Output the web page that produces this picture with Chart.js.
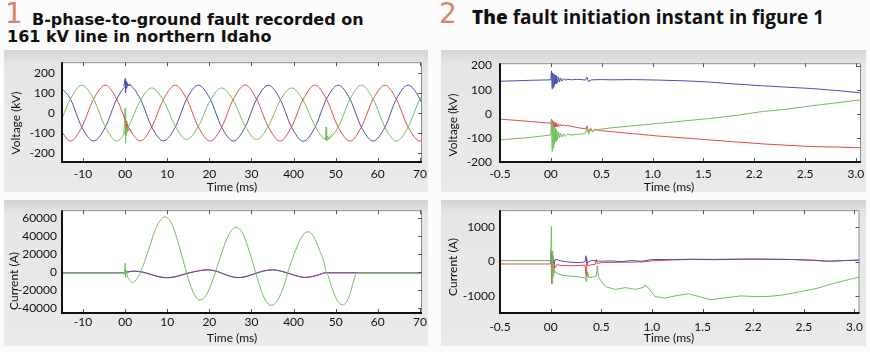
<!DOCTYPE html>
<html>
<head>
<meta charset="utf-8">
<script src="https://cdn.jsdelivr.net/npm/chart.js@4/dist/chart.umd.min.js"></script>
<style>
body { margin: 0; width: 870px; height: 352px; background: #fbfbfb; position: relative; overflow: hidden; }
.panel { position: absolute; background: linear-gradient(#d3d3d3 0, #dcdcdc 6px, #e6e6e6 14px, #eaeaea 100%); }
.wrap { position: absolute; }
.num { position: absolute; font: 28px "DejaVu Sans"; line-height: 28px; color: #d9856a; }
.ttl { position: absolute; font: bold 16px "DejaVu Sans"; line-height: 17px; color: #111; white-space: nowrap; }
.ttl2 { position: absolute; font: bold 19px "Open Sans"; line-height: 20px; color: #111; white-space: nowrap; }
.ttl2 .the { font-weight: 800; }
.lab { position: absolute; font: 12px Lato; line-height: 1; color: #111; white-space: nowrap; transform: translate(-50%, -50%); }
.rot { transform: translate(-50%, -50%) rotate(-90deg); }
</style>
</head>
<body>
<!-- 見出し -->
<div class="num" style="left:5px;top:0px">1</div>
<div class="ttl" style="left:32px;top:11px">B-phase-to-ground fault recorded on</div>
<div class="ttl" style="left:7px;top:28px">161 kV line in northern Idaho</div>
<div class="num" style="left:439px;top:0px">2</div>
<div class="ttl2" style="left:472px;top:7px"><span class="the">The</span> fault initiation instant in figure 1</div>

<!-- パネル背景 -->
<div class="panel" style="left:4px;top:50px;width:424px;height:142px"></div>
<div class="panel" style="left:4px;top:200px;width:424px;height:146px"></div>
<div class="panel" style="left:441px;top:50px;width:425px;height:142px"></div>
<div class="panel" style="left:441px;top:200px;width:425px;height:146px"></div>

<div class="wrap" style="left:0px;top:48px"><canvas id="vLeft" width="435" height="148"></canvas></div>
<div class="wrap" style="left:0px;top:198px"><canvas id="iLeft" width="435" height="150"></canvas></div>
<div class="wrap" style="left:435px;top:48px"><canvas id="vRight" width="435" height="148"></canvas></div>
<div class="wrap" style="left:435px;top:198px"><canvas id="iRight" width="435" height="150"></canvas></div>

<!-- 軸タイトル -->
<div class="lab rot" style="left:16px;top:123px">Voltage (kV)</div>
<div class="lab rot" style="left:14px;top:281px">Current (A)</div>
<div class="lab rot" style="left:453px;top:125px">Voltage (kV)</div>
<div class="lab rot" style="left:453px;top:267px">Current (A)</div>
<div class="lab" style="left:232px;top:187px">Time (ms)</div>
<div class="lab" style="left:232px;top:338px">Time (ms)</div>
<div class="lab" style="left:669px;top:187px">Time (ms)</div>
<div class="lab" style="left:669px;top:338px">Time (ms)</div>

<script>
// 目盛り
const leftTicks = [-10, 0, 10, 20, 30, 40, 50, 60, 70];
const leftTickLabels = ['-10', '00', '10', '20', '30', '400', '50', '60', '70'];
const rightTicks = [-0.5, 0, 0.5, 1.0, 1.5, 2.0, 2.5, 3.0];
const rightTickLabels = ['-0.5', '00', '0.5', '1.0', '1.5', '2.2', '2.5', '3.0'];
const voltTicks = [-200, -100, 0, 100, 200];
const ampTicksLeft = [-40000, -20000, 0, 20000, 40000, 60000];
const ampTicksRight = [-1000, 0, 1000];

// 図1 電圧 (kV)
const vTime = [-15.8, -13.0, -10.3, -7.5, -4.7, -2.0, 0.8, 3.6, 6.3, 9.1, 11.9, 14.6, 17.4, 20.2, 22.9, 25.7, 28.5,
  31.2, 34.0, 36.8, 39.5, 42.3, 45.1, 47.8, 50.6, 53.4, 56.1, 58.9, 61.7, 64.4, 67.2, 70.0, 72.7];
const blueV = [140, 70, -70, -140, -70, 70, 141, 71, -69, -139, -70, 70, 140, 70, -70, -140, -70,
  69, 139, 70, -70, -141, -71, 70, 140, 70, -70, -140, -70, 70, 140, 70, -70];
const redV = [-70, -140, -70, 70, 140, 70, -70, -139, -70, 69, 140, 71, -70, -140, -71, 70, 141,
  70, -69, -140, -70, 70, 140, 70, -70, -140, -70, 70, 140, 70, -70, -140, -70];
const greenV = [-70, 70, 140, 70, -70, -140, -66, 63, 126, 63, -66, -132, -66, 63, 126, 63, -66,
  -132, -66, 63, 126, 63, -66, -132, -70, 70, 140, 70, -70, -140, -70, 70, 140];
// 故障発生・遮断時のスパイク
const blueSpikeT = [-0.3, 0.0, 0.1, 0.2, 0.35, 0.5, 0.7, 1.0, 1.4];
const blueSpikeV = [134, 172, 102, 158, 125, 150, 136, 146, 139];
const redSpikeT = [-0.3, 0.0, 0.1, 0.2, 0.35, 0.5, 0.7, 1.0, 1.4];
const redSpikeV = [-17, -25, -82, -40, -95, -55, -88, -80, -92];
const greenSpikeT = [-0.3, 0.0, 0.05, 0.15, 0.3, 0.5, 0.8];
const greenSpikeV = [-105, 25, -152, -55, -115, -80, -68];
const greenClearT = [47.3, 47.6, 47.7, 47.85, 48.0, 48.3, 48.7, 49.2];
const greenClearV = [-128, -132, -70, -140, -115, -128, -112, -105];

// 図1 電流 (A)
const greenIT = [-15, -0.2, 0, 0.1, 0.25, 0.5, 0.9, 1.6, 3.0, 4.4, 5.6, 6.9, 8.2, 9.5, 10.9, 12.3, 13.6, 15.0,
  16.4, 17.8, 19.2, 20.6, 22.1, 23.6, 25.0, 26.4, 27.8, 29.2, 30.5, 31.9, 33.3, 34.7, 36.1, 37.6, 39.0, 40.5,
  42.0, 43.4, 44.8, 46.2, 47.4, 47.6, 47.8, 48.1, 48.5, 49.0, 50.3, 51.7, 52.6, 53.5, 54.3, 55.0, 71];
const greenIV = [-800, -800, 10000, -6000, 2000, -4000, -8000, -11500, -6000, 9000, 25600, 43800, 56700, 61500,
  55300, 37700, 16000, -7200, -24800, -31000, -25900, -11400, 9500, 30400, 44900, 50000, 44200, 27600, 7300,
  -14600, -31200, -37000, -31900, -16500, 5400, 24500, 39900, 45000, 39500, 24000, 8000, 3000, -1500, -3000,
  -8000, -16000, -31000, -36500, -33000, -23000, -9000, -800, -800];
const sideIT = [-15, -0.2, 0, 0.2, 0.5, 2.0, 4.0, 6.0, 8.0, 10.0, 12.0, 14.0, 16.5, 19.5, 22.0, 24.2, 26.8,
  28.7, 30.7, 32.7, 35.0, 37.0, 39.0, 41.0, 42.7, 44.5, 46.2, 47.5, 48.0, 71];
const blueIV = [-800, -800, -2500, 1500, 0, 1200, 300, -2200, -5000, -6300, -5200, -2500, 500, 2500, 500, -3500,
  -6200, -5000, -2000, 1000, 2500, 1200, -1500, -4500, -6000, -5000, -2800, -800, -800, -800];
const redIV = [-700, -700, 3000, -1500, 300, 1000, 0, -2500, -5200, -6000, -4800, -2000, 700, 2600, 600, -3300,
  -6000, -4800, -1800, 1200, 2600, 1000, -1800, -4700, -5800, -4600, -2300, -600, -700, -700];

// 図2 電圧 (kV)
const blueZT = [-0.5, -0.2, 0, 0.006, 0.012, 0.018, 0.024, 0.03, 0.036, 0.042, 0.05, 0.058, 0.066, 0.075, 0.085,
  0.095, 0.11, 0.125, 0.14, 0.16, 0.2, 0.25, 0.3, 0.34, 0.355, 0.37, 0.4, 0.5, 0.6, 0.8, 1.05, 1.3, 1.55, 1.8,
  2.09, 2.3, 2.56, 2.8, 3.05];
const blueZV = [135, 139, 141, 178, 104, 170, 110, 165, 118, 160, 124, 156, 128, 152, 132, 149, 136, 146, 139,
  144, 141, 143, 142, 140, 152, 134, 141, 142, 141, 142, 140, 137, 132, 124, 116, 111, 105, 97, 87];
const noiseZT = [-0.5, -0.2, 0, 0.006, 0.012, 0.018, 0.024, 0.03, 0.036, 0.042, 0.05, 0.058, 0.066, 0.075, 0.085,
  0.095, 0.11, 0.125, 0.14, 0.16, 0.2, 0.25, 0.3, 0.34, 0.355, 0.37, 0.39, 0.41, 0.43, 0.5, 0.6, 0.8, 1.05, 1.3,
  1.55, 1.8, 2.09, 2.3, 2.56, 2.8, 3.05];
const redZV = [-22, -32, -39, -22, -62, -28, -58, -33, -56, -37, -54, -40, -53, -42, -52, -44, -50, -46, -50, -48,
  -52, -56, -60, -62, -50, -75, -60, -72, -64, -70, -74, -82, -92, -100, -108, -116, -125, -130, -136, -138, -141];
const greenZV = [-108, -98, -88, -25, -155, -40, -140, -55, -125, -62, -115, -70, -108, -75, -100, -80, -96, -82,
  -94, -85, -88, -86, -84, -80, -58, -85, -66, -76, -68, -63, -58, -50, -40, -30, -20, -8, 10, 18, 33, 45, 58];

// 図2 電流 (A)
const greenZIT = [-0.5, 0, 0.008, 0.014, 0.02, 0.027, 0.037, 0.053, 0.12, 0.25, 0.34, 0.355, 0.365, 0.38, 0.45,
  0.46, 0.475, 0.54, 0.64, 0.74, 0.84, 0.92, 0.93, 0.97, 1.03, 1.13, 1.23, 1.36, 1.49, 1.58, 1.71, 1.88, 2.01,
  2.14, 2.3, 2.46, 2.63, 2.79, 2.95, 3.05];
const greenZIV = [30, 30, 1030, -640, 310, -450, -250, -330, -400, -440, -470, -590, -300, -470, -430, -120, -470,
  -730, -810, -760, -810, -750, -680, -780, -1020, -1065, -1000, -940, -1040, -1110, -1065, -1000, -1020, -1020,
  -970, -880, -780, -640, -520, -450];
const blueZIT = [-0.5, 0, 0.005, 0.01, 0.02, 0.03, 0.05, 0.1, 0.2, 0.3, 0.34, 0.35, 0.36, 0.4, 0.5, 0.6, 0.7, 0.8,
  0.9, 1.0, 1.2, 1.4, 1.6, 1.8, 2.0, 2.2, 2.4, 2.6, 2.75, 2.9, 3.05];
const blueZIV = [30, 30, 280, -150, 180, -60, 70, 20, -20, -30, 0, 170, -40, 30, 10, 20, 0, 30, 10, 60, 60, 70, 65,
  70, 75, 70, 60, 40, 10, 30, 45];
const redZIT = [-0.5, 0, 0.004, 0.008, 0.012, 0.016, 0.02, 0.026, 0.032, 0.04, 0.06, 0.1, 0.2, 0.3, 0.34, 0.35,
  0.355, 0.365, 0.4, 0.44, 0.45, 0.46, 0.5, 0.7, 0.9, 1.0, 1.2, 1.4, 1.6, 1.8, 2.0, 2.2, 2.4, 2.6, 2.75, 2.9, 3.05];
const redZIV = [-70, -70, 300, -650, 250, -480, 150, -320, 60, -200, -90, -110, -120, -110, -100, -450, 80, -120,
  -90, -80, 60, -60, -30, -20, -10, 20, 50, 60, 55, 65, 70, 65, 60, 35, 10, 30, 45];

const BLUE = '#4e4eae';
const RED = '#e04c4c';
const GREEN = '#70bf60';

// 線データを作る
function line(ts, vs, color, smooth) {
  return {
    data: ts.map((t, i) => ({ x: t, y: vs[i] })),
    borderColor: color,
    borderWidth: 1,
    pointRadius: 0,
    fill: false,
    tension: 0,
    cubicInterpolationMode: smooth ? 'monotone' : 'default'
  };
}

// プロット枠と内向きの目盛り線
const framePlugin = {
  id: 'frame',
  beforeDraw(chart) {
    const { ctx, chartArea: a } = chart;
    ctx.save();
    ctx.fillStyle = '#ffffff';
    ctx.fillRect(a.left, a.top, a.right - a.left, a.bottom - a.top);
    ctx.restore();
  },
  afterDraw(chart) {
    const { ctx, chartArea: a, scales } = chart;
    ctx.save();
    ctx.strokeStyle = '#8c8c8c';
    ctx.lineWidth = 1;
    ctx.beginPath();
    ctx.moveTo(a.left, a.top + 0.5);
    ctx.lineTo(a.right - 0.5, a.top + 0.5);
    ctx.lineTo(a.right - 0.5, a.bottom);
    ctx.stroke();
    ctx.strokeStyle = '#555';
    ctx.beginPath();
    scales.x.ticks.forEach(t => {
      const px = Math.round(scales.x.getPixelForValue(t.value)) + 0.5;
      ctx.moveTo(px, a.top); ctx.lineTo(px, a.top + 4);
      ctx.moveTo(px, a.bottom); ctx.lineTo(px, a.bottom - 4);
    });
    scales.y.ticks.forEach(t => {
      const py = Math.round(scales.y.getPixelForValue(t.value)) + 0.5;
      ctx.moveTo(a.right, py); ctx.lineTo(a.right - 4, py);
    });
    ctx.stroke();
    ctx.strokeStyle = '#111';
    ctx.lineWidth = 2;
    ctx.beginPath();
    ctx.moveTo(a.left, a.top);
    ctx.lineTo(a.left, a.bottom);
    ctx.lineTo(a.right, a.bottom);
    ctx.stroke();
    ctx.restore();
  }
};

const tickFont = { family: 'Lato', size: 12 };

function drawChart(id, cfg) {
  return new Chart(document.getElementById(id), {
    type: 'line',
    data: { datasets: cfg.datasets },
    options: {
      responsive: false,
      animation: false,
      events: [],
      layout: { padding: cfg.padding },
      plugins: { legend: { display: false }, tooltip: { enabled: false } },
      scales: {
        x: {
          type: 'linear',
          min: cfg.xMin,
          max: cfg.xMax,
          afterBuildTicks: s => { s.ticks = cfg.xTicks.map(v => ({ value: v })); },
          afterFit: s => { s.height = cfg.xHeight; },
          grid: { display: false, drawTicks: false },
          border: { display: false },
          ticks: {
            autoSkip: false, maxRotation: 0, padding: cfg.xPad, color: '#111', font: tickFont,
            callback: (v, i) => cfg.xLabels[i]
          }
        },
        y: {
          type: 'linear',
          min: cfg.yMin,
          max: cfg.yMax,
          afterBuildTicks: s => { s.ticks = cfg.yTicks.map(v => ({ value: v })); },
          afterFit: s => { s.width = cfg.yWidth; },
          grid: { display: false, drawTicks: false },
          border: { display: false },
          ticks: { autoSkip: false, padding: cfg.yPad, color: '#111', font: tickFont, callback: v => String(v) }
        }
      }
    },
    plugins: [framePlugin]
  });
}

// 図1 電圧
drawChart('vLeft', {
  datasets: [
    line(vTime, greenV, GREEN, true),
    line(vTime, redV, RED, true),
    line(vTime, blueV, BLUE, true),
    line(greenSpikeT, greenSpikeV, GREEN, false),
    line(greenClearT, greenClearV, GREEN, false),
    line(redSpikeT, redSpikeV, RED, false),
    line(blueSpikeT, blueSpikeV, BLUE, false)
  ],
  padding: { top: 8, right: 13, left: 0, bottom: 0 },
  xMin: -15, xMax: 70.5, xTicks: leftTicks, xLabels: leftTickLabels, xHeight: 34, xPad: 5,
  yMin: -245, yMax: 255, yTicks: voltTicks, yWidth: 62, yPad: 7
});

// 図1 電流
drawChart('iLeft', {
  datasets: [
    line(greenIT, greenIV, GREEN, true),
    line(sideIT, blueIV, BLUE, true),
    line(sideIT, redIV, RED, true)
  ],
  padding: { top: 11, right: 13, left: 0, bottom: 0 },
  xMin: -15, xMax: 70.5, xTicks: leftTicks, xLabels: leftTickLabels, xHeight: 35, xPad: 2,
  yMin: -45500, yMax: 69000, yTicks: ampTicksLeft, yWidth: 62, yPad: 5
});

// 図2 電圧
drawChart('vRight', {
  datasets: [
    line(noiseZT, greenZV, GREEN, false),
    line(noiseZT, redZV, RED, false),
    line(blueZT, blueZV, BLUE, false)
  ],
  padding: { top: 8, right: 9, left: 0, bottom: 0 },
  xMin: -0.5, xMax: 3.05, xTicks: rightTicks, xLabels: rightTickLabels, xHeight: 34, xPad: 5,
  yMin: -200, yMax: 210, yTicks: voltTicks, yWidth: 65, yPad: 8
});

// 図2 電流
drawChart('iRight', {
  datasets: [
    line(greenZIT, greenZIV, GREEN, false),
    line(blueZIT, blueZIV, BLUE, false),
    line(redZIT, redZIV, RED, false)
  ],
  padding: { top: 10, right: 9, left: 0, bottom: 0 },
  xMin: -0.5, xMax: 3.05, xTicks: rightTicks, xLabels: rightTickLabels, xHeight: 35, xPad: 7,
  yMin: -1500, yMax: 1500, yTicks: ampTicksRight, yWidth: 65, yPad: 5
});
</script>
</body>
</html>
